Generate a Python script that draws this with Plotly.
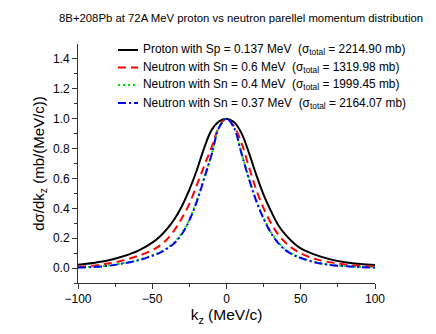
import plotly.graph_objects as go

kz = [-100, -90, -80, -70, -60, -50, -45, -40, -35, -30, -25, -20, -15, -10, -5, 0,
      5, 10, 15, 20, 25, 30, 35, 40, 45, 50, 60, 70, 80, 90, 100]

proton_sp0137 = [0.022, 0.034, 0.050, 0.077, 0.113, 0.170, 0.210, 0.262, 0.328, 0.415, 0.525, 0.655, 0.805, 0.925, 0.982, 1.000,
                 0.978, 0.905, 0.775, 0.625, 0.490, 0.380, 0.285, 0.220, 0.170, 0.132, 0.088, 0.058, 0.039, 0.027, 0.020]
neutron_sn06 = [0.008, 0.016, 0.030, 0.050, 0.080, 0.120, 0.150, 0.193, 0.255, 0.335, 0.430, 0.555, 0.685, 0.810, 0.945, 1.000,
                0.950, 0.840, 0.680, 0.525, 0.400, 0.300, 0.222, 0.168, 0.128, 0.098, 0.060, 0.038, 0.024, 0.015, 0.009]
neutron_sn04 = [0.004, 0.009, 0.017, 0.033, 0.053, 0.086, 0.107, 0.135, 0.174, 0.235, 0.325, 0.452, 0.607, 0.765, 0.942, 1.000,
                0.942, 0.775, 0.605, 0.455, 0.336, 0.240, 0.170, 0.122, 0.091, 0.070, 0.039, 0.022, 0.013, 0.007, 0.004]
neutron_sn037 = [0.003, 0.007, 0.015, 0.030, 0.050, 0.082, 0.102, 0.130, 0.168, 0.228, 0.320, 0.445, 0.600, 0.760, 0.940, 1.000,
                 0.940, 0.770, 0.600, 0.450, 0.330, 0.235, 0.165, 0.118, 0.088, 0.067, 0.037, 0.021, 0.012, 0.006, 0.003]

names = [
    "Proton with Sp = 0.137 MeV\u00a0\u00a0(\u03c3<sub>total</sub> = 2214.90 mb)",
    "Neutron with Sn = 0.6 MeV\u00a0\u00a0(\u03c3<sub>total</sub> = 1319.98 mb)",
    "Neutron with Sn = 0.4 MeV\u00a0\u00a0(\u03c3<sub>total</sub> = 1999.45 mb)",
    "Neutron with Sn = 0.37 MeV\u00a0\u00a0(\u03c3<sub>total</sub> = 2164.07 mb)",
]
series = [proton_sp0137, neutron_sn06, neutron_sn04, neutron_sn037]
colors = ["#000000", "#ff0000", "#00e000", "#0000ff"]
dashes = ["solid", "8px,5px", "2px,3px", "8px,3px,2px,3px"]

font = "Liberation Sans, Arial, sans-serif"
fig = go.Figure()
for nm, ys, c, d in zip(names, series, colors, dashes):
    fig.add_trace(go.Scatter(x=kz, y=ys, mode="lines", name=nm, showlegend=False,
                             line=dict(color=c, width=2, dash=d, shape="spline", smoothing=1.0)))

# manual legend (sample line + label), positioned in paper coordinates
leg_rows = [0.975, 0.9017, 0.8285, 0.7531]
for nm, c, d, yr in zip(names, colors, dashes, leg_rows):
    fig.add_shape(type="line", xref="paper", yref="paper", x0=0.1347, x1=0.2020, y0=yr, y1=yr,
                  line=dict(color=c, width=2, dash=d))
    fig.add_annotation(text=nm, xref="paper", yref="paper", x=0.2121, y=yr, xanchor="left", yanchor="middle",
                       showarrow=False, font=dict(family=font, size=11.9, color="black"))

# title as an annotation so its left edge is fixed
fig.add_annotation(text="8B+208Pb at 72A MeV proton vs neutron parellel momentum distribution",
                   xref="paper", yref="paper", x=(57 - 78) / 297, y=(283 - 18) / 239,
                   xanchor="left", yanchor="middle", showarrow=False,
                   font=dict(family=font, size=11.35, color="black"))

fig.update_layout(
    width=436, height=334,
    margin=dict(l=78, r=61, t=44, b=51),
    paper_bgcolor="white", plot_bgcolor="white",
    font=dict(family=font, size=12, color="black"),
    showlegend=False,
)
fig.update_xaxes(range=[-100, 100], tickvals=[-100, -50, 0, 50, 100], automargin=False,
                 showgrid=False, zeroline=False, showline=True, linecolor="#333", linewidth=1,
                 ticks="outside", ticklen=5, tickcolor="#333",
                 minor=dict(tickvals=[-75, -25, 25, 75], ticks="outside", ticklen=3, tickcolor="#333"),
                 tickfont=dict(family=font, size=12),
                 title=dict(text="k<sub>z</sub> (MeV/c)", font=dict(family=font, size=15.5), standoff=2))
fig.update_yaxes(range=[-0.1, 1.5], tickvals=[0, 0.2, 0.4, 0.6, 0.8, 1.0, 1.2, 1.4], tickformat=".1f",
                 automargin=False,
                 showgrid=False, zeroline=False, showline=True, linecolor="#333", linewidth=1,
                 ticks="outside", ticklen=5, tickcolor="#333",
                 minor=dict(tickvals=[-0.1, 0.1, 0.3, 0.5, 0.7, 0.9, 1.1, 1.3], ticks="outside", ticklen=3, tickcolor="#333"),
                 tickfont=dict(family=font, size=12),
                 title=dict(text="d\u03c3/dk<sub>z</sub> (mb/(MeV/c))", font=dict(family=font, size=15), standoff=4))

fig.write_html("out.html", config={"displayModeBar": False},
               post_script="document.body.style.margin='0px';")
